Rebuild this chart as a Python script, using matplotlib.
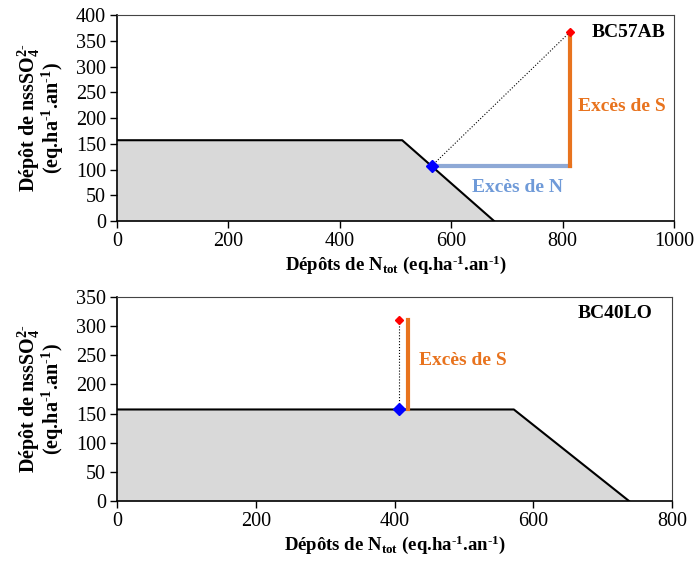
import matplotlib.pyplot as plt

plt.rcParams['font.family'] = 'Liberation Serif'
plt.rcParams['mathtext.fontset'] = 'custom'
plt.rcParams['mathtext.rm'] = 'Liberation Serif:bold'
plt.rcParams['mathtext.bf'] = 'Liberation Serif:bold'
plt.rcParams['mathtext.it'] = 'Liberation Serif:bold'

# critical load function (N, S) for each site
cl_n_top = [0, 512, 677]
cl_s_top = [157, 157, 0]
dep_top = (813, 367)      # current deposition (red)
target_top = (565, 107)   # point on the CL function (blue)

cl_n_bot = [0, 572, 738]
cl_s_bot = [157, 157, 0]
dep_bot = (406, 310)
target_bot = (406, 157)
exc_s_bot_x = 419

orange = '#E8731E'
lblue = '#8EA9D6'
tblue = '#6F9AD8'

fig = plt.figure(figsize=(6.94, 5.61), dpi=100)
ax1 = fig.add_axes([0.1686, 0.606, 0.8026, 0.367])
ax2 = fig.add_axes([0.1686, 0.107, 0.7997, 0.3636])

ylab = 'Dépôt de nssSO$_4^{2\\text{-}}$\n(eq.ha$^{\\text{-}1}$.an$^{\\text{-}1}$)'
xlab = 'Dépôts de N$_{\\mathrm{tot}}$ (eq.ha$^{\\text{-}1}$.an$^{\\text{-}1}$)'


def style(ax, xmax, ymax, xstep, ystep):
    ax.set_xlim(0, xmax)
    ax.set_ylim(0, ymax)
    ax.set_xticks(range(0, xmax + 1, xstep))
    ax.set_yticks(range(0, ymax + 1, ystep))
    ax.tick_params(direction='out', length=5, width=1, labelsize=14.5, pad=3)
    for s in ['top', 'right']:
        ax.spines[s].set_color('#444444')
        ax.spines[s].set_linewidth(0.8)
    for s in ['left', 'bottom']:
        ax.spines[s].set_linewidth(1.2)
    ax.set_xlabel(xlab, fontsize=13.5, fontweight='bold', labelpad=2)
    ax.set_ylabel(ylab, fontsize=14.5, fontweight='bold', labelpad=7, linespacing=0.9)


# top panel
ax1.fill_between(cl_n_top, cl_s_top, 0, color='#D9D9D9', lw=0)
ax1.plot(cl_n_top, cl_s_top, color='black', lw=1.5)
ax1.plot([dep_top[0], target_top[0]], [dep_top[1], target_top[1]], ls=':', color='black', lw=0.8)
ax1.plot([target_top[0], dep_top[0]], [target_top[1], target_top[1]], color=lblue, lw=3)
ax1.plot([dep_top[0], dep_top[0]], [target_top[1], dep_top[1]], color=orange, lw=3)
ax1.plot(*dep_top, marker='D', color='red', ms=4)
ax1.plot(*target_top, marker='D', color='blue', ms=6)
ax1.text(0.985, 0.915, 'BC57AB', transform=ax1.transAxes, ha='right', va='center',
         fontsize=14, fontweight='bold')
ax1.text(827, 223, 'Excès de S', color=orange, fontsize=14, fontweight='bold', va='center')
ax1.text(637, 66, 'Excès de N', color=tblue, fontsize=14, fontweight='bold', va='center')
style(ax1, 1000, 400, 200, 50)

# bottom panel
ax2.fill_between(cl_n_bot, cl_s_bot, 0, color='#D9D9D9', lw=0)
ax2.plot(cl_n_bot, cl_s_bot, color='black', lw=1.5)
ax2.plot([dep_bot[0], target_bot[0]], [dep_bot[1], target_bot[1]], ls=':', color='black', lw=0.8)
ax2.plot([exc_s_bot_x, exc_s_bot_x], [target_bot[1], dep_bot[1]], color=orange, lw=3)
ax2.plot(*dep_bot, marker='D', color='red', ms=4)
ax2.plot(*target_bot, marker='D', color='blue', ms=6)
ax2.text(0.965, 0.92, 'BC40LO', transform=ax2.transAxes, ha='right', va='center',
         fontsize=14, fontweight='bold')
ax2.text(436, 241, 'Excès de S', color=orange, fontsize=14, fontweight='bold', va='center')
style(ax2, 800, 350, 200, 50)

fig.savefig('out.png', dpi=100)
